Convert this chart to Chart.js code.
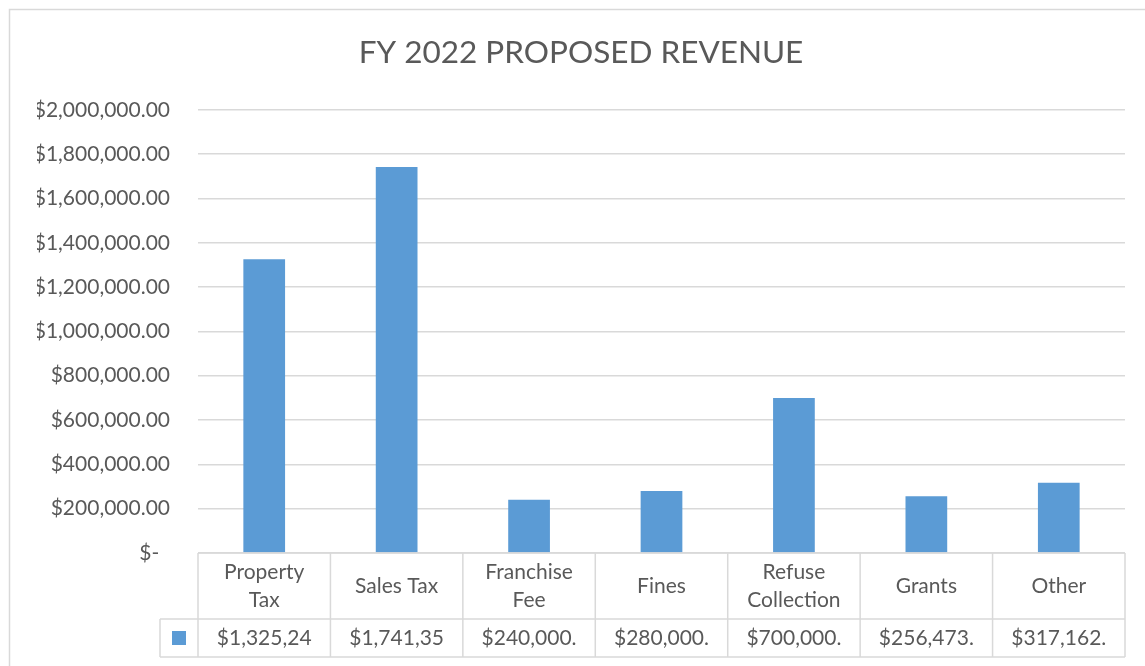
<!DOCTYPE html>
<html><head><meta charset="utf-8">
<script src="https://cdn.jsdelivr.net/npm/chart.js@4/dist/chart.umd.min.js"></script>
<style>html,body{margin:0;padding:0;background:#fff;overflow:hidden}#wrap{width:1145px;height:666px;position:relative}</style>
</head><body><div id="wrap"><canvas id="c" width="1145" height="666"></canvas></div>
<script>
const chartTitle = 'FY 2022 PROPOSED REVENUE';
const categories = [['Property','Tax'],['Sales Tax'],['Franchise','Fee'],['Fines'],['Refuse','Collection'],['Grants'],['Other']];
const revenue = [1325240, 1741350, 240000, 280000, 700000, 256473, 317162];
const yTickValues = [0, 200000, 400000, 600000, 800000, 1000000, 1200000, 1400000, 1600000, 1800000, 2000000];

const FONT = 'Lato';
const TEXT = '#595959';
const GRID = '#d9d9d9';
const BAR = '#5B9BD5';

function money(v){
  if (v === 0) return '$-  ';
  return '$' + v.toLocaleString('en-US',{minimumFractionDigits:2, maximumFractionDigits:2});
}

const frame = {
  id:'frame',
  beforeDraw(chart){
    const ctx = chart.ctx; ctx.save();
    ctx.strokeStyle = GRID; ctx.lineWidth = 1.5;
    ctx.strokeRect(9.5, 9.5, 1300, 800);
    ctx.restore();
  }
};

const dataTable = {
  id:'dataTable',
  afterDraw(chart){
    const ctx = chart.ctx, xs = chart.scales.x, area = chart.chartArea;
    const n = categories.length;
    const step = xs.getPixelForValue(1) - xs.getPixelForValue(0);
    const bounds = [];
    for (let i=0;i<=n;i++) bounds.push(xs.getPixelForValue(0) - step/2 + i*step);
    const top = area.bottom, r1 = top + 66, r2 = r1 + 38;
    const keyLeft = bounds[0] - 38;
    ctx.save();
    ctx.strokeStyle = GRID; ctx.lineWidth = 1.5;
    ctx.beginPath();
    ctx.moveTo(bounds[0], top); ctx.lineTo(bounds[n], top);
    ctx.moveTo(keyLeft, r1); ctx.lineTo(bounds[n], r1);
    ctx.moveTo(keyLeft, r2); ctx.lineTo(bounds[n], r2);
    bounds.forEach(b => { ctx.moveTo(b, top); ctx.lineTo(b, r2); });
    ctx.moveTo(keyLeft, r1); ctx.lineTo(keyLeft, r2);
    ctx.stroke();
    ctx.fillStyle = TEXT;
    ctx.font = '21px ' + FONT;
    ctx.textAlign = 'center'; ctx.textBaseline = 'middle';
    const hc = (top + r1)/2, lh = 28;
    categories.forEach((lines, i) => {
      const cx = (bounds[i] + bounds[i+1])/2;
      lines.forEach((t, j) => ctx.fillText(t, cx, hc + (j - (lines.length-1)/2)*lh));
    });
    const vc = (r1 + r2)/2;
    revenue.forEach((v, i) => {
      const cx = (bounds[i] + bounds[i+1])/2;
      let s = money(v);
      const maxW = step - 30;
      while (ctx.measureText(s).width > maxW && s.length > 1) s = s.slice(0, -1);
      ctx.fillText(s, cx, vc);
    });
    ctx.fillStyle = BAR;
    ctx.fillRect(keyLeft + 12, vc - 7, 14, 14);
    ctx.restore();
  }
};

new Chart(document.getElementById('c'), {
  type:'bar',
  data:{
    labels: categories,
    datasets:[{ label:'Revenue', data: revenue, backgroundColor: BAR, borderWidth:0, categoryPercentage:1, barPercentage:0.315 }]
  },
  options:{
    responsive:false, animation:false, devicePixelRatio:1,
    layout:{ padding:{ left:37, right:20, top:0, bottom:0 } },
    plugins:{
      legend:{ display:false },
      tooltip:{ enabled:false },
      title:{ display:true, text: chartTitle, color: TEXT, font:{ family: FONT, size:31.5, weight:'normal', lineHeight:1.2 }, padding:{ top:34, bottom:38 } }
    },
    scales:{
      x:{
        ticks:{ display:false }, grid:{ display:false }, border:{ display:false },
        afterFit(s){ s.height = 113; }
      },
      y:{
        min:0, max:2000000,
        afterBuildTicks(s){ s.ticks = yTickValues.map(v => ({ value:v })); },
        ticks:{ color: TEXT, font:{ family: FONT, size:21 }, padding:28, callback:(v)=>money(v) },
        grid:{ color: GRID, lineWidth:1.5, drawTicks:false },
        border:{ display:false },
        afterFit(s){ s.width = 161; }
      }
    }
  },
  plugins:[frame, dataTable]
});
</script></body></html>
